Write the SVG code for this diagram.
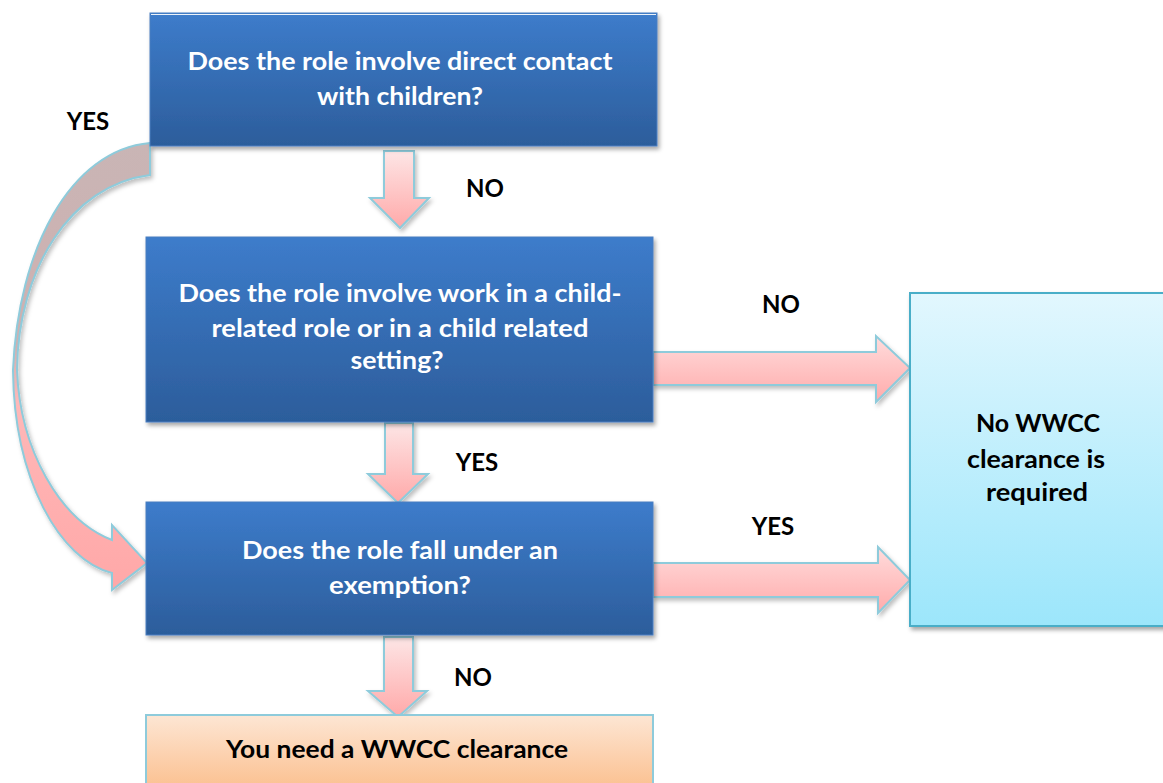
<svg xmlns="http://www.w3.org/2000/svg" width="1163" height="783" viewBox="0 0 1163 783">
<defs>
<linearGradient id="gBlue" x1="0" y1="0" x2="0" y2="1">
<stop offset="0" stop-color="#3d7ccb"/>
<stop offset="1" stop-color="#2c5d9b"/>
</linearGradient>
<linearGradient id="gCyan" x1="0" y1="0" x2="0" y2="1">
<stop offset="0" stop-color="#e2f7fe"/>
<stop offset="1" stop-color="#9ce6fb"/>
</linearGradient>
<linearGradient id="gOrange" x1="0" y1="0" x2="0" y2="1">
<stop offset="0" stop-color="#fde6d4"/>
<stop offset="1" stop-color="#fbbd8a"/>
</linearGradient>
<linearGradient id="gPink" x1="0" y1="0" x2="0" y2="1">
<stop offset="0" stop-color="#fde6e6"/>
<stop offset="1" stop-color="#ffa9a9"/>
</linearGradient>
<linearGradient id="gPinkH" x1="0" y1="0" x2="0" y2="1">
<stop offset="0" stop-color="#ffdcdc"/>
<stop offset="1" stop-color="#ffabab"/>
</linearGradient>
<linearGradient id="gCurve" gradientUnits="userSpaceOnUse" x1="0" y1="143" x2="0" y2="590">
<stop offset="0" stop-color="#c9b5b5"/>
<stop offset="0.45" stop-color="#cfb0b0"/>
<stop offset="0.58" stop-color="#ffb8b8"/>
<stop offset="1" stop-color="#ffa8a8"/>
</linearGradient>
<filter id="sh" x="-10%" y="-10%" width="130%" height="130%">
<feDropShadow dx="2" dy="3" stdDeviation="2" flood-color="#000" flood-opacity="0.35"/>
</filter>
<filter id="shA" x="-20%" y="-20%" width="150%" height="150%">
<feDropShadow dx="2" dy="3" stdDeviation="2" flood-color="#000" flood-opacity="0.25"/>
</filter>
</defs>
<style>
.q{fill:url(#gBlue);stroke:#4a7fc0;stroke-width:1;filter:url(#sh)}
.qt{font-family:Lato,"Liberation Sans",sans-serif;font-weight:bold;font-size:25px;fill:#ffffff;text-anchor:middle}
.bt{font-family:Lato,"Liberation Sans",sans-serif;font-weight:bold;font-size:25px;fill:#000000;text-anchor:middle}
.lb{font-family:Lato,"Liberation Sans",sans-serif;font-weight:bold;font-size:24px;fill:#000000;text-anchor:middle}
.ar{fill:url(#gPink);stroke:#8ecbdb;stroke-width:2;stroke-linejoin:miter;filter:url(#shA)}
.arh{fill:url(#gPinkH);stroke:#8ecbdb;stroke-width:2;stroke-linejoin:miter;filter:url(#shA)}
</style>
<g id="connectors">
<path class="ar" d="M384,151 L414,151 L414,198 L429,198 L400,228 L370,198 L384,198 Z"/>
<path class="ar" d="M385,423 L413,423 L413,474 L428,474 L398,503 L368,474 L385,474 Z"/>
<path class="ar" d="M384,637 L413,637 L413,691 L427,691 L398,717 L368,691 L384,691 Z"/>
<path class="arh" d="M653,352 L876,352 L876,336 L910,368 L876,402 L876,385 L653,385 Z"/>
<path class="arh" d="M653,563 L878,563 L878,547 L910,580 L878,613 L878,597 L653,597 Z"/>
<path fill="url(#gCurve)" stroke="#8ecbdb" stroke-width="2" filter="url(#shA)" d="M150,143 C70,150 18,250 13,370 C14,480 60,560 112,573 L112,590 L147,563 L112,525 L112,540 C60,520 20,450 17,370 C18,270 70,185 150,175 Z"/>
</g>
<g id="labels">
<text class="lb" x="88" y="130">YES</text>
<text class="lb" x="485" y="197">NO</text>
<text class="lb" x="477" y="471">YES</text>
<text class="lb" x="473" y="686">NO</text>
<text class="lb" x="781" y="313">NO</text>
<text class="lb" x="773" y="535">YES</text>
</g>
<g id="q1">
<rect class="q" x="150" y="13" width="507" height="133"/>
<line x1="151" y1="14.5" x2="656" y2="14.5" stroke="#ffffff" stroke-width="1.2" opacity="0.9"/>
<text class="qt" x="400" y="70" textLength="425" lengthAdjust="spacingAndGlyphs">Does the role involve direct contact</text>
<text class="qt" x="400" y="105" textLength="166" lengthAdjust="spacingAndGlyphs">with children?</text>
</g>
<g id="q2">
<rect class="q" x="146" y="237" width="507" height="185"/>
<text class="qt" x="400" y="302" textLength="443" lengthAdjust="spacingAndGlyphs">Does the role involve work in a child-</text>
<text class="qt" x="400" y="337" textLength="377" lengthAdjust="spacingAndGlyphs">related role or in a child related</text>
<text class="qt" x="397" y="369" textLength="93" lengthAdjust="spacingAndGlyphs">setting?</text>
</g>
<g id="q3">
<rect class="q" x="146" y="502" width="507" height="133"/>
<text class="qt" x="400" y="559" textLength="316" lengthAdjust="spacingAndGlyphs">Does the role fall under an</text>
<text class="qt" x="400" y="594" textLength="142" lengthAdjust="spacingAndGlyphs">exemption?</text>
</g>
<g id="result-need">
<rect x="146" y="715" width="507" height="80" fill="url(#gOrange)" stroke="#8ecbdb" stroke-width="2"/>
<text class="bt" x="397" y="758" textLength="342" lengthAdjust="spacingAndGlyphs">You need a WWCC clearance</text>
</g>
<g id="result-none">
<rect x="910" y="293" width="260" height="333" fill="url(#gCyan)" stroke="#4aaec8" stroke-width="2" filter="url(#sh)"/>
<text class="bt" x="1038" y="432" textLength="124" lengthAdjust="spacingAndGlyphs">No WWCC</text>
<text class="bt" x="1036" y="468" textLength="138" lengthAdjust="spacingAndGlyphs">clearance is</text>
<text class="bt" x="1037" y="501" textLength="102" lengthAdjust="spacingAndGlyphs">required</text>
</g>
</svg>
